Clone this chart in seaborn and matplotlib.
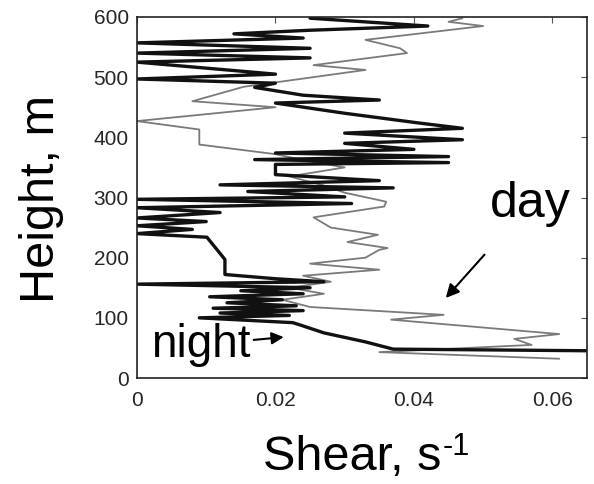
import matplotlib
matplotlib.use("Agg")
import matplotlib.pyplot as plt
import seaborn as sns
import pandas as pd

# Night-time shear profile (thick black line)
night_height = [45, 48, 60, 75, 88, 92, 100, 104, 108, 112, 116, 120, 125, 130, 135,
                140, 145, 150, 156, 160, 165, 172, 197, 234, 240, 247, 253, 260, 266,
                275, 283, 290, 297, 301, 310, 316, 321, 328, 338, 355, 358, 363, 368,
                374, 380, 390, 396, 407, 415, 424, 440, 457, 462, 470, 483, 490, 497,
                505, 515, 525, 532, 540, 548, 557, 565, 572, 578, 585, 598]
night_shear = [0.068, 0.037, 0.033, 0.027, 0.0236, 0.0225, 0.009, 0.022, 0.012, 0.024,
               0.011, 0.023, 0.013, 0.021, 0.0105, 0.024, 0.015, 0.025, 0.0, 0.027,
               0.020, 0.0127, 0.0127, 0.0101, 0.0, 0.008, 0.0, 0.010, 0.0, 0.012, 0.0,
               0.031, 0.0, 0.030, 0.016, 0.037, 0.012, 0.035, 0.020, 0.020, 0.045,
               0.017, 0.045, 0.020, 0.040, 0.030, 0.047, 0.030, 0.047, 0.0406, 0.030,
               0.020, 0.035, 0.024, 0.017, 0.020, 0.0, 0.020, 0.010, 0.0, 0.025, 0.0,
               0.025, 0.0, 0.024, 0.014, 0.025, 0.042, 0.025]

# Daytime shear profile (thin grey line)
day_height = [32, 43, 55, 65, 73, 97, 105, 118, 130, 140, 150, 160, 170, 180, 190, 200,
              213, 216, 226, 238, 250, 267, 285, 293, 308, 320, 335, 350, 360, 372, 388,
              413, 427, 450, 460, 484, 512, 520, 540, 548, 562, 585, 592, 598]
day_shear = [0.061, 0.035, 0.057, 0.0545, 0.061, 0.0367, 0.0443, 0.025, 0.021, 0.027,
             0.022, 0.028, 0.024, 0.035, 0.025, 0.033, 0.035, 0.0362, 0.0304, 0.0348,
             0.028, 0.0255, 0.0357, 0.036, 0.030, 0.027, 0.022, 0.030, 0.025, 0.020,
             0.009, 0.009, 0.0, 0.020, 0.008, 0.0154, 0.033, 0.0255, 0.039, 0.038,
             0.033, 0.050, 0.045, 0.047]

x_ticks = [0, 0.02, 0.04, 0.06]
x_tick_labels = ["0", "0.02", "0.04", "0.06"]
y_ticks = [0, 100, 200, 300, 400, 500, 600]

night = pd.DataFrame({"shear": night_shear, "height": night_height})
day = pd.DataFrame({"shear": day_shear, "height": day_height})

sns.set_style("white")
plt.rcParams["font.family"] = ["Liberation Sans", "DejaVu Sans"]
plt.rcParams["text.color"] = "black"

fig = plt.figure(figsize=(5.94, 4.84), dpi=100)
ax = fig.add_axes([137 / 594, 1 - 378 / 484, 450 / 594, 361 / 484])

sns.lineplot(data=day, x="shear", y="height", orient="y", estimator=None,
             color="#7a7a7a", linewidth=1.3, ax=ax)
sns.lineplot(data=night, x="shear", y="height", orient="y", estimator=None,
             color="#111111", linewidth=2.4, ax=ax)

ax.set_xlim(0, 0.065)
ax.set_ylim(0, 600)
ax.set_xticks(x_ticks)
ax.set_xticklabels(x_tick_labels)
ax.set_yticks(y_ticks)
ax.set_xlabel("")
ax.set_ylabel("")
ax.tick_params(direction="in", length=4, width=0.8, top=True, right=True,
               labelsize=15, labelcolor="#262626", color="#555555")
ax.tick_params(axis="x", pad=9)
ax.tick_params(axis="y", pad=6)
for s in ax.spines.values():
    s.set_color("#222222")
    s.set_linewidth(1.2)

fig.text(42 / 594, 1 - 199 / 484, "Height, m", rotation=90, fontsize=35,
         ha="center", va="center", color="black")
xlab = fig.text(352 / 594, 1 - 457 / 484, "Shear, s", fontsize=35,
                ha="center", va="center", color="black")
ax.annotate("-1", xy=(1, 1), xycoords=xlab, xytext=(1, 2),
            textcoords="offset points", ha="left", va="top", fontsize=22,
            color="black", annotation_clip=False)

ax.annotate("day", xy=(0.0446, 133), xytext=(0.0568, 290), fontsize=36,
            ha="center", va="center", color="black",
            arrowprops=dict(arrowstyle="-|>", color="black", lw=1.5,
                            mutation_scale=20, shrinkA=24, shrinkB=0))
ax.annotate("night", xy=(0.0212, 68), xytext=(0.0092, 55), fontsize=33,
            ha="center", va="center", color="black",
            arrowprops=dict(arrowstyle="-|>", color="black", lw=1.5,
                            mutation_scale=18, shrinkA=52, shrinkB=0))

fig.savefig("out.png", dpi=100, facecolor="white")
